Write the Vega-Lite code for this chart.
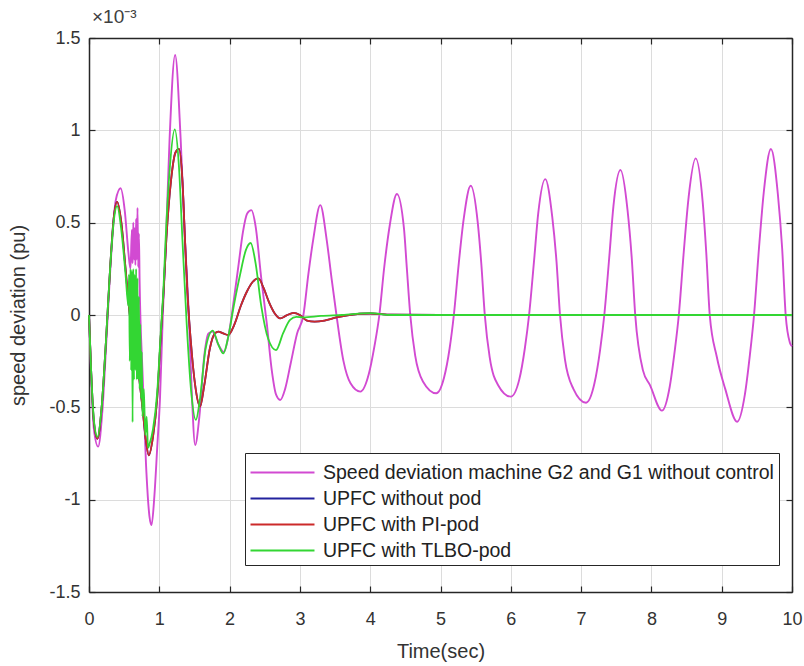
{
"$schema": "https://vega.github.io/schema/vega-lite/v6.json",
"width": 703, "height": 554,
"autosize": {"type": "none"},
"padding": {"left": 89, "top": 38, "right": 12, "bottom": 74},
"background": "white",
"title": {"text": "×10⁻³", "anchor": "start", "frame": "group", "fontSize": 19, "fontWeight": "normal", "font": "Liberation Sans", "color": "#404040", "offset": 2, "dx": 3},
"config": {"view": {"stroke": null}, "font": "Liberation Sans"},
"data": {"values": [
{"t":0,"v":0,"s":"A"},{"t":0.03,"v":-0.32,"s":"A"},{"t":0.07,"v":-0.62,"s":"A"},{"t":0.13,"v":-0.713,"s":"A"},{"t":0.19,"v":-0.52,"s":"A"},{"t":0.25,"v":-0.12,"s":"A"},{"t":0.32,"v":0.35,"s":"A"},{"t":0.38,"v":0.62,"s":"A"},{"t":0.45,"v":0.686,"s":"A"},{"t":0.51,"v":0.56,"s":"A"},{"t":0.56,"v":0.34,"s":"A"},{"t":0.59,"v":0.25,"s":"A"},{"t":0.61,"v":0.46,"s":"A"},{"t":0.62,"v":0.28,"s":"A"},{"t":0.63,"v":0.5,"s":"A"},{"t":0.64,"v":0.3,"s":"A"},{"t":0.65,"v":0.47,"s":"A"},{"t":0.66,"v":0.27,"s":"A"},{"t":0.67,"v":0.52,"s":"A"},{"t":0.68,"v":0.3,"s":"A"},{"t":0.69,"v":0.58,"s":"A"},{"t":0.7,"v":0.26,"s":"A"},{"t":0.71,"v":0.44,"s":"A"},{"t":0.72,"v":0.18,"s":"A"},{"t":0.76,"v":-0.3,"s":"A"},{"t":0.81,"v":-0.8,"s":"A"},{"t":0.86,"v":-1.09,"s":"A"},{"t":0.89,"v":-1.137,"s":"A"},{"t":0.93,"v":-0.98,"s":"A"},{"t":0.97,"v":-0.72,"s":"A"},{"t":1.01,"v":-0.45,"s":"A"},{"t":1.05,"v":0,"s":"A"},{"t":1.095,"v":0.41,"s":"A"},{"t":1.146,"v":0.95,"s":"A"},{"t":1.225,"v":1.408,"s":"A"},{"t":1.304,"v":0.95,"s":"A"},{"t":1.365,"v":0.41,"s":"A"},{"t":1.42,"v":0,"s":"A"},{"t":1.46,"v":-0.4,"s":"A"},{"t":1.51,"v":-0.704,"s":"A"},{"t":1.57,"v":-0.55,"s":"A"},{"t":1.64,"v":-0.22,"s":"A"},{"t":1.7,"v":-0.1,"s":"A"},{"t":1.76,"v":-0.09,"s":"A"},{"t":1.84,"v":-0.16,"s":"A"},{"t":1.92,"v":-0.2,"s":"A"},{"t":1.99,"v":-0.1,"s":"A"},{"t":2.06,"v":0.08,"s":"A"},{"t":2.13,"v":0.28,"s":"A"},{"t":2.19,"v":0.45,"s":"A"},{"t":2.25,"v":0.55,"s":"A"},{"t":2.31,"v":0.568,"s":"A"},{"t":2.37,"v":0.48,"s":"A"},{"t":2.45,"v":0.2,"s":"A"},{"t":2.53,"v":-0.05,"s":"A"},{"t":2.6,"v":-0.3,"s":"A"},{"t":2.66,"v":-0.43,"s":"A"},{"t":2.72,"v":-0.46,"s":"A"},{"t":2.79,"v":-0.4,"s":"A"},{"t":2.87,"v":-0.26,"s":"A"},{"t":2.96,"v":-0.1,"s":"A"},{"t":3.05,"v":0,"s":"A"},{"t":3.12,"v":0.22,"s":"A"},{"t":3.19,"v":0.41,"s":"A"},{"t":3.29,"v":0.595,"s":"A"},{"t":3.38,"v":0.41,"s":"A"},{"t":3.45,"v":0.2,"s":"A"},{"t":3.52,"v":0,"s":"A"},{"t":3.62,"v":-0.25,"s":"A"},{"t":3.72,"v":-0.37,"s":"A"},{"t":3.86,"v":-0.415,"s":"A"},{"t":3.98,"v":-0.32,"s":"A"},{"t":4.06,"v":-0.17,"s":"A"},{"t":4.13,"v":0,"s":"A"},{"t":4.2,"v":0.26,"s":"A"},{"t":4.28,"v":0.49,"s":"A"},{"t":4.38,"v":0.655,"s":"A"},{"t":4.48,"v":0.47,"s":"A"},{"t":4.52,"v":0.26,"s":"A"},{"t":4.57,"v":0,"s":"A"},{"t":4.64,"v":-0.22,"s":"A"},{"t":4.75,"v":-0.36,"s":"A"},{"t":4.94,"v":-0.424,"s":"A"},{"t":5.05,"v":-0.34,"s":"A"},{"t":5.13,"v":-0.18,"s":"A"},{"t":5.19,"v":0,"s":"A"},{"t":5.26,"v":0.28,"s":"A"},{"t":5.33,"v":0.52,"s":"A"},{"t":5.43,"v":0.7,"s":"A"},{"t":5.53,"v":0.5,"s":"A"},{"t":5.58,"v":0.28,"s":"A"},{"t":5.63,"v":0,"s":"A"},{"t":5.7,"v":-0.23,"s":"A"},{"t":5.82,"v":-0.38,"s":"A"},{"t":6.0,"v":-0.442,"s":"A"},{"t":6.12,"v":-0.35,"s":"A"},{"t":6.2,"v":-0.18,"s":"A"},{"t":6.26,"v":0,"s":"A"},{"t":6.33,"v":0.29,"s":"A"},{"t":6.39,"v":0.55,"s":"A"},{"t":6.49,"v":0.736,"s":"A"},{"t":6.59,"v":0.53,"s":"A"},{"t":6.65,"v":0.29,"s":"A"},{"t":6.7,"v":0,"s":"A"},{"t":6.77,"v":-0.24,"s":"A"},{"t":6.89,"v":-0.4,"s":"A"},{"t":7.07,"v":-0.475,"s":"A"},{"t":7.19,"v":-0.37,"s":"A"},{"t":7.27,"v":-0.19,"s":"A"},{"t":7.33,"v":0,"s":"A"},{"t":7.4,"v":0.31,"s":"A"},{"t":7.46,"v":0.59,"s":"A"},{"t":7.56,"v":0.785,"s":"A"},{"t":7.66,"v":0.57,"s":"A"},{"t":7.72,"v":0.31,"s":"A"},{"t":7.77,"v":0,"s":"A"},{"t":7.88,"v":-0.3,"s":"A"},{"t":7.98,"v":-0.38,"s":"A"},{"t":8.15,"v":-0.518,"s":"A"},{"t":8.26,"v":-0.39,"s":"A"},{"t":8.33,"v":-0.2,"s":"A"},{"t":8.39,"v":0,"s":"A"},{"t":8.46,"v":0.34,"s":"A"},{"t":8.53,"v":0.64,"s":"A"},{"t":8.63,"v":0.848,"s":"A"},{"t":8.73,"v":0.61,"s":"A"},{"t":8.78,"v":0.34,"s":"A"},{"t":8.83,"v":0,"s":"A"},{"t":8.93,"v":-0.226,"s":"A"},{"t":9.05,"v":-0.4,"s":"A"},{"t":9.22,"v":-0.578,"s":"A"},{"t":9.33,"v":-0.43,"s":"A"},{"t":9.4,"v":-0.22,"s":"A"},{"t":9.46,"v":0,"s":"A"},{"t":9.53,"v":0.36,"s":"A"},{"t":9.6,"v":0.67,"s":"A"},{"t":9.7,"v":0.899,"s":"A"},{"t":9.8,"v":0.65,"s":"A"},{"t":9.86,"v":0.36,"s":"A"},{"t":9.91,"v":0,"s":"A"},{"t":9.97,"v":-0.15,"s":"A"},{"t":10,"v":-0.17,"s":"A"},
{"t":0,"v":0,"s":"B"},{"t":0.03,"v":-0.3,"s":"B"},{"t":0.07,"v":-0.58,"s":"B"},{"t":0.12,"v":-0.67,"s":"B"},{"t":0.18,"v":-0.5,"s":"B"},{"t":0.24,"v":-0.15,"s":"B"},{"t":0.3,"v":0.25,"s":"B"},{"t":0.35,"v":0.52,"s":"B"},{"t":0.4,"v":0.613,"s":"B"},{"t":0.46,"v":0.5,"s":"B"},{"t":0.52,"v":0.25,"s":"B"},{"t":0.58,"v":0,"s":"B"},{"t":0.64,"v":-0.15,"s":"B"},{"t":0.7,"v":-0.3,"s":"B"},{"t":0.76,"v":-0.5,"s":"B"},{"t":0.81,"v":-0.68,"s":"B"},{"t":0.85,"v":-0.76,"s":"B"},{"t":0.91,"v":-0.66,"s":"B"},{"t":0.97,"v":-0.45,"s":"B"},{"t":1.02,"v":-0.12,"s":"B"},{"t":1.06,"v":0.12,"s":"B"},{"t":1.1,"v":0.41,"s":"B"},{"t":1.17,"v":0.74,"s":"B"},{"t":1.23,"v":0.88,"s":"B"},{"t":1.28,"v":0.9,"s":"B"},{"t":1.33,"v":0.72,"s":"B"},{"t":1.365,"v":0.41,"s":"B"},{"t":1.4,"v":0.12,"s":"B"},{"t":1.45,"v":-0.15,"s":"B"},{"t":1.51,"v":-0.38,"s":"B"},{"t":1.58,"v":-0.496,"s":"B"},{"t":1.64,"v":-0.38,"s":"B"},{"t":1.72,"v":-0.18,"s":"B"},{"t":1.79,"v":-0.1,"s":"B"},{"t":1.84,"v":-0.09,"s":"B"},{"t":1.91,"v":-0.1,"s":"B"},{"t":1.98,"v":-0.108,"s":"B"},{"t":2.07,"v":-0.05,"s":"B"},{"t":2.16,"v":0.05,"s":"B"},{"t":2.25,"v":0.13,"s":"B"},{"t":2.33,"v":0.18,"s":"B"},{"t":2.41,"v":0.198,"s":"B"},{"t":2.48,"v":0.15,"s":"B"},{"t":2.56,"v":0.07,"s":"B"},{"t":2.64,"v":0.01,"s":"B"},{"t":2.72,"v":-0.018,"s":"B"},{"t":2.81,"v":-0.002,"s":"B"},{"t":2.91,"v":0.012,"s":"B"},{"t":3.0,"v":0,"s":"B"},{"t":3.1,"v":-0.03,"s":"B"},{"t":3.21,"v":-0.036,"s":"B"},{"t":3.35,"v":-0.03,"s":"B"},{"t":3.52,"v":-0.013,"s":"B"},{"t":3.7,"v":0,"s":"B"},{"t":4.0,"v":0.008,"s":"B"},{"t":4.3,"v":0.002,"s":"B"},{"t":5.0,"v":0,"s":"B"},{"t":10,"v":0,"s":"B"},
{"t":0,"v":0,"s":"C"},{"t":0.03,"v":-0.3,"s":"C"},{"t":0.07,"v":-0.58,"s":"C"},{"t":0.12,"v":-0.67,"s":"C"},{"t":0.18,"v":-0.5,"s":"C"},{"t":0.24,"v":-0.15,"s":"C"},{"t":0.3,"v":0.25,"s":"C"},{"t":0.35,"v":0.52,"s":"C"},{"t":0.4,"v":0.613,"s":"C"},{"t":0.46,"v":0.5,"s":"C"},{"t":0.52,"v":0.25,"s":"C"},{"t":0.58,"v":0,"s":"C"},{"t":0.64,"v":-0.15,"s":"C"},{"t":0.7,"v":-0.3,"s":"C"},{"t":0.76,"v":-0.5,"s":"C"},{"t":0.81,"v":-0.68,"s":"C"},{"t":0.85,"v":-0.76,"s":"C"},{"t":0.91,"v":-0.66,"s":"C"},{"t":0.97,"v":-0.45,"s":"C"},{"t":1.02,"v":-0.12,"s":"C"},{"t":1.06,"v":0.12,"s":"C"},{"t":1.1,"v":0.41,"s":"C"},{"t":1.17,"v":0.74,"s":"C"},{"t":1.23,"v":0.88,"s":"C"},{"t":1.28,"v":0.9,"s":"C"},{"t":1.33,"v":0.72,"s":"C"},{"t":1.365,"v":0.41,"s":"C"},{"t":1.4,"v":0.12,"s":"C"},{"t":1.45,"v":-0.15,"s":"C"},{"t":1.51,"v":-0.38,"s":"C"},{"t":1.58,"v":-0.496,"s":"C"},{"t":1.64,"v":-0.38,"s":"C"},{"t":1.72,"v":-0.18,"s":"C"},{"t":1.79,"v":-0.1,"s":"C"},{"t":1.84,"v":-0.09,"s":"C"},{"t":1.91,"v":-0.1,"s":"C"},{"t":1.98,"v":-0.108,"s":"C"},{"t":2.07,"v":-0.05,"s":"C"},{"t":2.16,"v":0.05,"s":"C"},{"t":2.25,"v":0.13,"s":"C"},{"t":2.33,"v":0.18,"s":"C"},{"t":2.41,"v":0.198,"s":"C"},{"t":2.48,"v":0.15,"s":"C"},{"t":2.56,"v":0.07,"s":"C"},{"t":2.64,"v":0.01,"s":"C"},{"t":2.72,"v":-0.018,"s":"C"},{"t":2.81,"v":-0.002,"s":"C"},{"t":2.91,"v":0.012,"s":"C"},{"t":3.0,"v":0,"s":"C"},{"t":3.1,"v":-0.03,"s":"C"},{"t":3.21,"v":-0.036,"s":"C"},{"t":3.35,"v":-0.03,"s":"C"},{"t":3.52,"v":-0.013,"s":"C"},{"t":3.7,"v":0,"s":"C"},{"t":4.0,"v":0.008,"s":"C"},{"t":4.3,"v":0.002,"s":"C"},{"t":5.0,"v":0,"s":"C"},{"t":10,"v":0,"s":"C"},
{"t":0,"v":0,"s":"D"},{"t":0.03,"v":-0.3,"s":"D"},{"t":0.07,"v":-0.57,"s":"D"},{"t":0.12,"v":-0.66,"s":"D"},{"t":0.18,"v":-0.5,"s":"D"},{"t":0.24,"v":-0.15,"s":"D"},{"t":0.3,"v":0.25,"s":"D"},{"t":0.35,"v":0.5,"s":"D"},{"t":0.4,"v":0.59,"s":"D"},{"t":0.46,"v":0.46,"s":"D"},{"t":0.52,"v":0.22,"s":"D"},{"t":0.56,"v":0.05,"s":"D"},{"t":0.57,"v":0.22,"s":"D"},{"t":0.58,"v":-0.25,"s":"D"},{"t":0.59,"v":0.25,"s":"D"},{"t":0.6,"v":-0.3,"s":"D"},{"t":0.61,"v":0.24,"s":"D"},{"t":0.62,"v":-0.58,"s":"D"},{"t":0.63,"v":0.25,"s":"D"},{"t":0.64,"v":-0.35,"s":"D"},{"t":0.65,"v":0.22,"s":"D"},{"t":0.66,"v":-0.3,"s":"D"},{"t":0.67,"v":0.25,"s":"D"},{"t":0.68,"v":-0.35,"s":"D"},{"t":0.69,"v":0.2,"s":"D"},{"t":0.7,"v":-0.35,"s":"D"},{"t":0.71,"v":0.1,"s":"D"},{"t":0.72,"v":-0.4,"s":"D"},{"t":0.73,"v":-0.05,"s":"D"},{"t":0.74,"v":-0.45,"s":"D"},{"t":0.75,"v":-0.2,"s":"D"},{"t":0.76,"v":-0.55,"s":"D"},{"t":0.78,"v":-0.4,"s":"D"},{"t":0.8,"v":-0.65,"s":"D"},{"t":0.82,"v":-0.55,"s":"D"},{"t":0.84,"v":-0.72,"s":"D"},{"t":0.86,"v":-0.7,"s":"D"},{"t":0.91,"v":-0.62,"s":"D"},{"t":0.97,"v":-0.42,"s":"D"},{"t":1.02,"v":-0.1,"s":"D"},{"t":1.06,"v":0.15,"s":"D"},{"t":1.09,"v":0.41,"s":"D"},{"t":1.15,"v":0.8,"s":"D"},{"t":1.22,"v":1.005,"s":"D"},{"t":1.28,"v":0.8,"s":"D"},{"t":1.33,"v":0.4,"s":"D"},{"t":1.39,"v":-0.05,"s":"D"},{"t":1.45,"v":-0.4,"s":"D"},{"t":1.52,"v":-0.568,"s":"D"},{"t":1.58,"v":-0.45,"s":"D"},{"t":1.66,"v":-0.18,"s":"D"},{"t":1.76,"v":-0.085,"s":"D"},{"t":1.84,"v":-0.16,"s":"D"},{"t":1.91,"v":-0.208,"s":"D"},{"t":1.98,"v":-0.12,"s":"D"},{"t":2.06,"v":0.05,"s":"D"},{"t":2.15,"v":0.22,"s":"D"},{"t":2.23,"v":0.35,"s":"D"},{"t":2.3,"v":0.39,"s":"D"},{"t":2.37,"v":0.28,"s":"D"},{"t":2.45,"v":0.05,"s":"D"},{"t":2.55,"v":-0.13,"s":"D"},{"t":2.66,"v":-0.19,"s":"D"},{"t":2.76,"v":-0.1,"s":"D"},{"t":2.86,"v":-0.027,"s":"D"},{"t":2.95,"v":-0.01,"s":"D"},{"t":3.05,"v":-0.013,"s":"D"},{"t":3.3,"v":-0.005,"s":"D"},{"t":3.6,"v":0,"s":"D"},{"t":4.0,"v":0.01,"s":"D"},{"t":4.3,"v":0,"s":"D"},{"t":10,"v":0,"s":"D"}
]},
"layer": [
{"transform": [{"filter": "datum.s === 'A'"}],
 "mark": {"type": "line", "interpolate": "monotone", "strokeWidth": 1.9},
 "encoding": {
  "x": {"field": "t", "type": "quantitative", "scale": {"domain": [0, 10], "nice": false, "zero": false},
   "axis": {"orient": "bottom", "values": [0,1,2,3,4,5,6,7,8,9,10], "grid": true, "gridColor": "#dcdcdc", "gridWidth": 1, "domainColor": "#262626", "domainWidth": 1.5, "tickColor": "#262626", "tickSize": -6, "tickWidth": 1.2, "labelFontSize": 18, "labelColor": "#333333", "labelPadding": 24, "labelFlush": false, "title": "Time(sec)", "titleFontSize": 20, "titleFontWeight": "normal", "titleColor": "#333333", "titlePadding": 13}},
  "y": {"field": "v", "type": "quantitative", "scale": {"domain": [-1.5, 1.5], "nice": false, "zero": false},
   "axis": {"orient": "left", "values": [-1.5,-1,-0.5,0,0.5,1,1.5], "labelExpr": "'' + datum.value", "grid": true, "gridColor": "#dcdcdc", "gridWidth": 1, "domainColor": "#262626", "domainWidth": 1.5, "tickColor": "#262626", "tickSize": -6, "tickWidth": 1.2, "labelFontSize": 18, "labelColor": "#333333", "labelPadding": 15, "labelFlush": false, "title": "speed deviation (pu)", "titleFontSize": 20, "titleFontWeight": "normal", "titleColor": "#333333", "titlePadding": 20}},
  "color": {"field": "s", "type": "nominal",
   "scale": {"domain": ["A","B","C","D"], "range": ["#d24ad2", "#22229e", "#cc2a2a", "#33d633"]},
   "legend": {"orient": "none", "legendX": 156, "legendY": 415, "title": null, "direction": "vertical",
    "labelExpr": "datum.label === 'A' ? 'Speed deviation machine G2 and G1 without control' : datum.label === 'B' ? '\u2002UPFC without pod' : datum.label === 'C' ? '\u2002UPFC with PI-pod' : 'UPFC with TLBO-pod'",
    "symbolType": "M-2.37,0H2.37", "symbolSize": 729, "symbolStrokeWidth": 1.8, "symbolOffset": 18,
    "labelFont": "Liberation Sans", "labelFontSize": 19.5, "labelColor": "#222222", "labelOffset": 26,
    "strokeColor": "#262626", "fillColor": "white", "padding": 5, "rowPadding": 2, "labelLimit": 600}}
 }},
{"transform": [{"filter": "datum.s === 'B'"}],
 "mark": {"type": "line", "interpolate": "monotone", "strokeWidth": 1.8},
 "encoding": {"x": {"field": "t", "type": "quantitative", "axis": null}, "y": {"field": "v", "type": "quantitative", "axis": null}, "color": {"field": "s", "type": "nominal"}}},
{"transform": [{"filter": "datum.s === 'C'"}],
 "mark": {"type": "line", "interpolate": "monotone", "strokeWidth": 1.8},
 "encoding": {"x": {"field": "t", "type": "quantitative", "axis": null}, "y": {"field": "v", "type": "quantitative", "axis": null}, "color": {"field": "s", "type": "nominal"}}},
{"transform": [{"filter": "datum.s === 'D'"}],
 "mark": {"type": "line", "interpolate": "monotone", "strokeWidth": 1.8},
 "encoding": {"x": {"field": "t", "type": "quantitative", "axis": null}, "y": {"field": "v", "type": "quantitative", "axis": null}, "color": {"field": "s", "type": "nominal"}}},
{"mark": {"type": "point", "opacity": 0},
 "encoding": {
  "x": {"field": "t", "type": "quantitative", "axis": {"orient": "top", "values": [0,1,2,3,4,5,6,7,8,9,10], "labels": false, "grid": false, "domainColor": "#262626", "domainWidth": 1.5, "tickColor": "#262626", "tickSize": -6, "tickWidth": 1.2, "title": null}},
  "y": {"field": "v", "type": "quantitative", "axis": {"orient": "right", "values": [-1.5,-1,-0.5,0,0.5,1,1.5], "labels": false, "grid": false, "domainColor": "#262626", "domainWidth": 1.5, "tickColor": "#262626", "tickSize": -6, "tickWidth": 1.2, "title": null}}
 }}
],
"resolve": {"axis": {"x": "independent", "y": "independent"}}
}
